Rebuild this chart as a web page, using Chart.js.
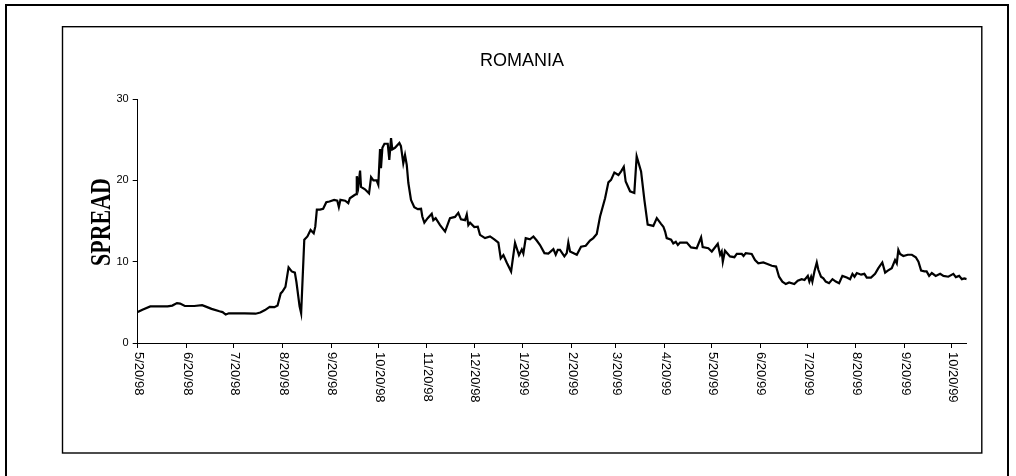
<!DOCTYPE html>
<html>
<head>
<meta charset="utf-8">
<script src="https://cdn.jsdelivr.net/npm/chart.js@4.4.1/dist/chart.umd.min.js"></script>
<style>
  html, body { margin: 0; padding: 0; background: #fff; }
  #wrap { width: 1016px; height: 476px; }
</style>
</head>
<body>
<div id="wrap"><canvas id="chart" width="1016" height="476"></canvas></div>
<script>
const chartTitle = "ROMANIA";
const yTitle = "SPREAD";

// x ticks: days since 5/20/98
const tickDays = [0, 31, 61, 92, 123, 153, 184, 214, 245, 276, 304, 335, 365, 396, 426, 457, 488, 518];
const tickLabels = ["5/20/98", "6/20/98", "7/20/98", "8/20/98", "9/20/98", "10/20/98", "11/20/98", "12/20/98",
	"1/20/99", "2/20/99", "3/20/99", "4/20/99", "5/20/99", "6/20/99", "7/20/99", "8/20/99", "9/20/99", "10/20/99"];

// observations: day since 5/20/98 and spread
const days = [
	0, 3, 8, 13, 19, 22, 25, 27, 30, 36, 41, 43, 47, 52, 54, 56, 58, 62, 68, 75, 78, 81, 84, 87, 89,
	91, 92, 94, 96, 98, 100, 101, 103, 104, 106, 108, 110, 112, 113, 114, 116, 118, 120, 122,
	125, 127, 128, 129, 132, 134, 135, 138, 139, 139.4, 140.4, 141.5, 142.1, 144.6, 147.2, 148.5, 150, 152,
	153.1, 154.2, 154.8, 155.7, 157, 159.1, 160.1, 161.2, 162, 163.7, 166.5, 167.5, 169, 170.1, 171.2, 172.2, 173.9, 176, 178.2, 180.3, 181.1, 182.4,
	184.5, 187.1, 188.1, 189.6, 192.4, 195.6, 198.7, 201.9, 204, 205.7, 208.3, 209.4, 210.4, 211.5,
	214.2, 216.4, 217.8, 221, 224.2, 226.9, 229.5, 231, 232.7, 234.8, 237.6, 240.1, 241.2, 242.6, 244.4,
	245.4, 246.9, 249.6, 251.8, 253.9, 256, 258.8, 261.3, 264.5, 266, 267.3, 268.7, 271.5, 273, 274, 275.1,
	279.4, 282.1, 285.1, 287.8, 289.9, 292.1, 294.2, 297.4, 299.5, 301.2, 303.3,
	305.9, 307.6, 309.3, 310.5, 313.3, 316, 317.5, 320.3, 322.4, 324.5, 328.1, 330.3, 333, 334.5,
	335.6, 336.6, 339.4, 340.8, 342.4, 343.7, 345.1, 349.4, 352.1, 355.7, 358.5, 359.5, 363.1,
	365.3, 369.1, 370.6, 371.6, 372.3, 373.7, 376.9, 379.7, 381.2, 384.4, 385.5, 386.9, 390.7, 392.8, 394.9,
	398.1, 400.3, 403.5, 406.2, 408.1, 410.2, 412.4, 414.5, 417.8, 420, 422.5, 424.3,
	426.4, 427.4, 428.5, 429.3, 430.6, 432.1, 433.1, 434.8, 436.3, 437.8, 439.9, 442.1, 444.2, 446.3, 448.4, 451.2, 453.3, 454.8, 456.1,
	457.6, 460.3, 462.4, 463.9, 466.6, 469.2, 471.3, 473.8, 475.6, 477.3, 479.8, 481.9, 483, 484, 485.1, 487.2,
	490, 492.6, 495.1, 496.8, 498.5, 500.6, 502, 503.6, 505.3, 507.8, 510.6, 512.7, 515.8,
	519, 520.6, 522.7, 524.4, 526, 527.5
];
const spread = [
	3.8, 4.1, 4.5, 4.5, 4.5, 4.6, 4.9, 4.85, 4.55, 4.55, 4.65, 4.5, 4.2, 3.9, 3.8, 3.5, 3.65, 3.65, 3.65, 3.6, 3.75, 4.05, 4.45, 4.4, 4.6,
	6.1, 6.3, 6.9, 9.3, 8.8, 8.65, 7.5, 4.5, 3.65, 12.7, 13.1, 13.9, 13.5, 14.3, 16.4, 16.4, 16.5, 17.3, 17.4,
	17.6, 17.5, 16.7, 17.6, 17.5, 17.2, 17.8, 18.2, 18.3, 20.5, 19.3, 21.2, 19.2, 18.9, 18.4, 20.4, 20.0, 20.0,
	19.45, 23.85, 21.5, 24.0, 24.5, 24.5, 22.5, 25.2, 23.8, 24.0, 24.6, 24.2, 22.1, 23.1, 21.9, 19.7, 17.6, 16.7, 16.45, 16.5, 15.55, 14.8,
	15.35, 15.9, 15.1, 15.35, 14.5, 13.7, 15.35, 15.5, 16.0, 15.2, 15.1, 15.8, 14.5, 14.8,
	14.25, 14.3, 13.3, 12.9, 13.1, 12.75, 12.35, 10.4, 10.8, 9.9, 8.8, 12.3, 11.65, 10.8, 11.5,
	11.0, 12.9, 12.75, 13.1, 12.6, 12.05, 11.05, 11.0, 11.55, 10.85, 11.45, 11.45, 10.65, 11.05, 12.35, 11.25,
	10.85, 11.85, 11.95, 12.6, 12.9, 13.4, 15.55, 17.8, 19.75, 20.05, 20.95,
	20.65, 21.1, 21.65, 19.85, 18.65, 18.45, 22.95, 21.1, 17.6, 14.55, 14.4, 15.35, 14.65, 14.3,
	13.7, 12.9, 12.7, 12.25, 12.45, 12.05, 12.35, 12.35, 11.75, 11.65, 13.0, 11.8, 11.65,
	11.25, 12.2, 10.85, 11.25, 10.0, 11.35, 10.65, 10.55, 10.95, 10.95, 10.7, 11.05, 10.95, 10.2, 9.8,
	9.9, 9.75, 9.5, 9.4, 8.15, 7.55, 7.25, 7.45, 7.25, 7.65, 7.85, 7.75,
	8.25, 7.55, 8.15, 7.55, 8.8, 9.9, 9.0, 8.15, 7.95, 7.55, 7.35, 7.85, 7.55, 7.35, 8.25, 8.05, 7.85, 8.5, 8.15,
	8.6, 8.4, 8.5, 8.05, 8.05, 8.5, 9.2, 9.9, 8.65, 8.9, 9.2, 10.2, 9.8, 11.45, 10.95, 10.7,
	10.85, 10.85, 10.55, 10.0, 8.9, 8.8, 8.8, 8.25, 8.6, 8.25, 8.5, 8.25, 8.15,
	8.5, 8.1, 8.25, 7.85, 7.95, 7.85
];

const sans = "'Liberation Sans', Arial, sans-serif";

const frame = {
	id: "frame",
	beforeDraw(chart) {
		const ctx = chart.ctx;
		ctx.save();
		ctx.strokeStyle = "#000";
		ctx.lineWidth = 2;
		ctx.strokeRect(6, 5, 1002, 480);
		ctx.lineWidth = 1.4;
		ctx.strokeRect(62.5, 26.7, 919.3, 426.3);
		ctx.restore();
	},
	afterDraw(chart) {
		const ctx = chart.ctx;
		const xs = chart.scales.x;
		ctx.save();
		ctx.fillStyle = "#000";
		ctx.font = "13px " + sans;
		ctx.textAlign = "left";
		ctx.textBaseline = "middle";
		xs.ticks.forEach((t, i) => {
			const px = xs.getPixelForValue(t.value);
			ctx.save();
			ctx.translate(px + 1, xs.top + 9);
			ctx.rotate(Math.PI / 2);
			ctx.fillText(tickLabels[i], 0, 0);
			ctx.restore();
		});
		// condensed bold serif axis title
		ctx.font = "bold 30px 'Liberation Serif', 'Times New Roman', serif";
		const w = ctx.measureText(yTitle).width;
		ctx.translate(102, 222);
		ctx.rotate(-Math.PI / 2);
		ctx.scale(88 / w, 1);
		ctx.textAlign = "center";
		ctx.fillText(yTitle, 0, 0);
		ctx.restore();
	}
};

new Chart(document.getElementById("chart"), {
	type: "line",
	data: {
		datasets: [{
			data: days.map((d, i) => ({ x: d, y: spread[i] })),
			borderColor: "#000",
			borderWidth: 2.2,
			pointRadius: 0,
			tension: 0,
			fill: false
		}]
	},
	options: {
		responsive: false,
		animation: false,
		devicePixelRatio: 1,
		layout: { padding: { left: 77.3, right: 49.3, top: 0, bottom: 0 } },
		plugins: {
			legend: { display: false },
			tooltip: { enabled: false },
			title: {
				display: true,
				text: chartTitle,
				color: "#000",
				font: { family: sans, size: 18, weight: "normal", lineHeight: 1.2 },
				padding: { top: 50.7, bottom: 26.7 }
			}
		},
		scales: {
			x: {
				type: "linear",
				min: 0,
				max: days[days.length - 1],
				afterBuildTicks: (scale) => { scale.ticks = tickDays.map(v => ({ value: v })); },
				afterFit: (scale) => { scale.height = 133; },
				ticks: { display: false },
				grid: { drawOnChartArea: false, drawTicks: true, tickLength: 5, color: "#000" },
				border: { display: true, color: "#000", width: 1 }
			},
			y: {
				min: 0,
				max: 30,
				afterFit: (scale) => { scale.width = 60.4; },
				ticks: { stepSize: 10, color: "#000", padding: 4, font: { family: sans, size: 11 } },
				grid: { drawOnChartArea: false, drawTicks: true, tickLength: 5, color: "#000" },
				border: { display: true, color: "#000", width: 1 }
			}
		}
	},
	plugins: [frame]
});
</script>
</body>
</html>
